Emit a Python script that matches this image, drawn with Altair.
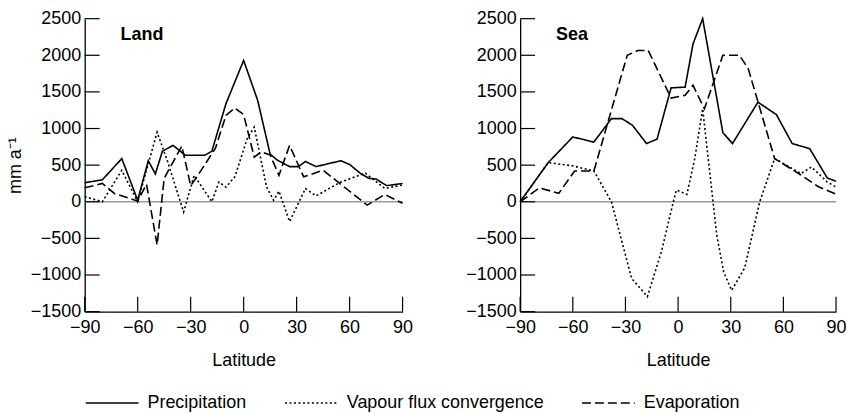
import altair as alt
import pandas as pd

# ---------------- data ----------------
series_names = ["Precipitation", "Vapour flux convergence", "Evaporation"]

land_p_lat = [-90, -80, -69, -60, -54, -50, -46, -40, -33, -22, -18, -10, 0, 8, 15, 19, 26, 31, 35, 41, 55, 60, 66, 71, 75, 81, 90]
land_p_val = [260, 300, 590, 20, 560, 380, 690, 770, 635, 635, 690, 1340, 1930, 1380, 650, 570, 480, 480, 550, 480, 560, 510, 390, 320, 310, 220, 250]

land_v_lat = [-90, -80, -69, -60, -49, -43, -34, -28, -18, -14, -10, -5, 2, 6, 13, 17, 20, 26, 35, 41, 55, 69, 80, 90]
land_v_val = [70, 0, 430, 0, 950, 545, -140, 360, 0, 270, 200, 340, 860, 1020, 200, 20, 145, -270, 180, 80, 270, 390, 180, 230]

land_e_lat = [-90, -80, -73, -60, -55, -49, -45, -35, -30, -27, -16, -10, -5, 0, 6, 10, 15, 20, 26, 34, 45, 70, 80, 90]
land_e_val = [190, 250, 110, 10, 240, -590, 320, 760, 220, 320, 730, 1180, 1280, 1190, 610, 680, 640, 360, 770, 340, 430, -45, 100, -20]

sea_p_lat = [-90, -74, -60, -48, -38, -32, -26, -18, -12, -4, 4, 8.5, 14, 25.5, 31, 45.5, 56, 65, 75, 85, 90]
sea_p_val = [0, 535, 885, 815, 1135, 1135, 1045, 795, 855, 1555, 1565, 2155, 2500, 945, 795, 1360, 1190, 795, 725, 325, 280]

sea_v_lat = [-90, -74, -60, -48, -38, -26.5, -17.5, -9.5, -2.5, -1, 5, 9.5, 14, 22, 26, 30.5, 38, 46.5, 55, 70, 76, 85, 90]
sea_v_val = [0, 535, 490, 420, 0, -1045, -1295, -680, 20, 160, 100, 590, 1270, -450, -960, -1210, -900, 0, 590, 385, 475, 270, 200]

sea_e_lat = [-90, -79, -68, -59, -48, -29, -23, -17, -4, 4, 8.5, 15, 25.5, 35, 40, 55, 70, 80, 90]
sea_e_val = [0, 190, 115, 420, 420, 2000, 2065, 2065, 1415, 1455, 1590, 1270, 2000, 2000, 1815, 590, 365, 205, 105]

x_ticks = [-90, -60, -30, 0, 30, 60, 90]
y_ticks = [-1500, -1000, -500, 0, 500, 1000, 1500, 2000, 2500]
dash_styles = [[1, 0], [2, 2.5], [9, 4]]


def frame(pairs):
    rows = []
    for name, lats, vals in pairs:
        for la, v in zip(lats, vals):
            rows.append({"series": name, "lat": la, "v": v})
    return pd.DataFrame(rows)


land_df = frame([
    ("Precipitation", land_p_lat, land_p_val),
    ("Vapour flux convergence", land_v_lat, land_v_val),
    ("Evaporation", land_e_lat, land_e_val),
])
sea_df = frame([
    ("Precipitation", sea_p_lat, sea_p_val),
    ("Vapour flux convergence", sea_v_lat, sea_v_val),
    ("Evaporation", sea_e_lat, sea_e_val),
])

W, H = 319, 294
FONT = "Liberation Sans"

xscale = alt.Scale(domain=[-90, 90], nice=False, zero=False)
yscale = alt.Scale(domain=[-1500, 2500], nice=False, zero=False)


def panel(df, name, ytitle, width):
    xaxis = alt.Axis(values=x_ticks, format="d", title="Latitude", ticks=False,
                     tickSize=0, labelPadding=7, titlePadding=15, grid=False,
                     labelFlush=False)
    yaxis = alt.Axis(values=y_ticks, format="d", title=ytitle, ticks=False,
                     tickSize=0, labelPadding=4, titlePadding=6, grid=False)

    zero = alt.Chart(pd.DataFrame({"v": [0]})).mark_rule(
        color="#9a9a9a", strokeWidth=1.6
    ).encode(y=alt.Y("v:Q", scale=yscale, axis=yaxis))

    yt = alt.Chart(pd.DataFrame({"v": y_ticks})).mark_rule(
        color="black", strokeWidth=1.2
    ).encode(y=alt.Y("v:Q", scale=yscale, axis=yaxis),
             x=alt.value(0), x2=alt.value(15))

    xt = alt.Chart(pd.DataFrame({"lat": x_ticks})).mark_rule(
        color="black", strokeWidth=1.2
    ).encode(x=alt.X("lat:Q", scale=xscale, axis=xaxis),
             y=alt.value(H - 15), y2=alt.value(H))

    lines = alt.Chart(df).mark_line(color="black", strokeWidth=1.6).encode(
        x=alt.X("lat:Q", scale=xscale, axis=xaxis),
        y=alt.Y("v:Q", scale=yscale, axis=yaxis),
        strokeDash=alt.StrokeDash(
            "series:N",
            scale=alt.Scale(domain=series_names, range=dash_styles),
            sort=series_names,
            legend=alt.Legend(
                orient="none", legendX=0, legendY=358, direction="horizontal",
                title=None, symbolType="stroke", symbolSize=2800,
                symbolStrokeWidth=1.6, symbolStrokeColor="black",
                labelFontSize=18, labelFont=FONT, labelLimit=320,
                labelOffset=8, columnPadding=34, labelColor="black",
            ),
        ),
    )

    label = alt.Chart(pd.DataFrame({"name": [name]})).mark_text(
        fontSize=18, fontWeight="bold", font=FONT, align="left",
        baseline="alphabetic", color="black"
    ).encode(x=alt.value(36), y=alt.value(21), text="name:N")

    return alt.layer(zero, yt, xt, lines, label).properties(width=width, height=H)


left = panel(land_df, "Land", "mm a\u207b\u00b9", W)
right = panel(sea_df, "Sea", "", 317)

chart = alt.hconcat(left, right, spacing=118, bounds="flush").properties(
    padding={"left": 6, "top": 9, "right": 0, "bottom": 0},
).configure_view(stroke=None).configure_axis(
    labelFont=FONT, labelFontSize=18, labelColor="black",
    titleFont=FONT, titleFontSize=18, titleFontWeight="normal", titleColor="black",
    domainColor="black", domainWidth=1.3,
)

chart.save("out.html", embed_options={"renderer": "svg", "actions": False})
